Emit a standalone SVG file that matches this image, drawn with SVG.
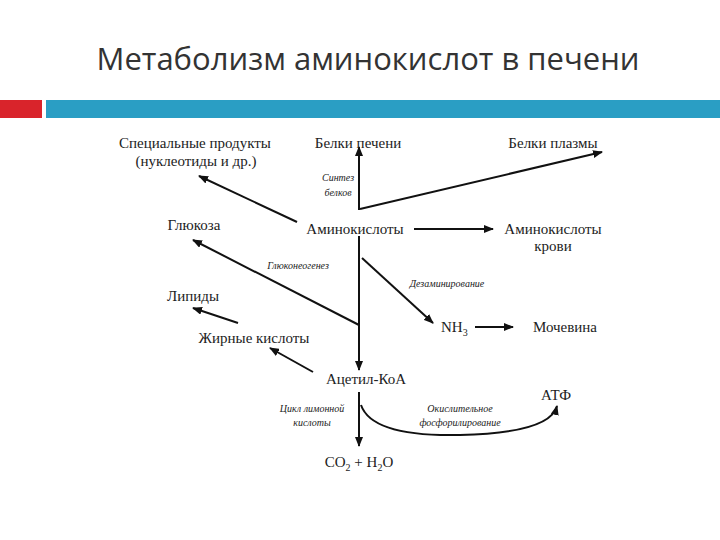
<svg xmlns="http://www.w3.org/2000/svg" width="720" height="540" viewBox="0 0 720 540">
<defs>
<marker id="a" markerWidth="10" markerHeight="8" refX="9" refY="4" orient="auto" markerUnits="userSpaceOnUse"><path d="M0,0 L10,4 L0,8 Z" fill="#111"/></marker>
<style>
.t{font-family:"Liberation Serif",serif;font-size:15px;fill:#222}
.i{font-family:"Liberation Serif",serif;font-size:10px;font-style:italic;fill:#222}
.l{stroke:#111;stroke-width:2;fill:none}
.m{marker-end:url(#a)}
</style>
</defs>
<rect width="720" height="540" fill="#fff"/>
<text x="368" y="70" text-anchor="middle" font-family="Open Sans, sans-serif" font-size="31" fill="#333">Метаболизм аминокислот в печени</text>
<rect x="0" y="100" width="42" height="18" fill="#d9242b"/>
<rect x="46" y="100" width="674" height="18" fill="#2a9ec4"/>
<g id="connectors">
<path class="l m" d="M359,210 V147"/>
<path class="l m" d="M360,209 L602,152"/>
<path class="l m" d="M297,222 L199,176"/>
<path class="l m" d="M414,229 H493"/>
<path class="l m" d="M359,236 V370"/>
<path class="l m" d="M359,325 L193,240"/>
<path class="l m" d="M362,258 L433,323"/>
<path class="l m" d="M475,327 H513"/>
<path class="l m" d="M238,323 L193,308"/>
<path class="l m" d="M313,372 L270,348"/>
<path class="l m" d="M359,392 V446"/>
<path class="l m" d="M361,405 Q372,437 460,435 Q550,433 557,406"/>
</g>
<g id="n1"><text class="t" x="195" y="148" text-anchor="middle">Специальные продукты</text><text class="t" x="196" y="166" text-anchor="middle">(нуклеотиды и др.)</text></g>
<g id="n2"><text class="t" x="358" y="148" text-anchor="middle">Белки печени</text></g>
<g id="n3"><text class="t" x="553" y="148" text-anchor="middle">Белки плазмы</text></g>
<g id="l1"><text class="i" x="338" y="181" text-anchor="middle">Синтез</text><text class="i" x="338" y="196" text-anchor="middle">белков</text></g>
<g id="n4"><text class="t" x="194" y="230" text-anchor="middle">Глюкоза</text></g>
<g id="n5"><text class="t" x="355" y="234" text-anchor="middle">Аминокислоты</text></g>
<g id="n6"><text class="t" x="553" y="234" text-anchor="middle">Аминокислоты</text><text class="t" x="553" y="251" text-anchor="middle">крови</text></g>
<g id="l2"><text class="i" x="298" y="269" text-anchor="middle">Глюконеогенез</text></g>
<g id="l3"><text class="i" x="447" y="287" text-anchor="middle">Дезаминирование</text></g>
<g id="n7"><text class="t" x="193" y="301" text-anchor="middle">Липиды</text></g>
<g id="n8"><text class="t" x="441" y="332">NH<tspan font-size="10" dy="4">3</tspan></text></g>
<g id="n9"><text class="t" x="565" y="332" text-anchor="middle">Мочевина</text></g>
<g id="n10"><text class="t" x="254" y="343" text-anchor="middle">Жирные кислоты</text></g>
<g id="n11"><text class="t" x="366" y="384" text-anchor="middle">Ацетил-КоА</text></g>
<g id="n12"><text class="t" x="556" y="400" text-anchor="middle">АТФ</text></g>
<g id="l4"><text class="i" x="312" y="412" text-anchor="middle">Цикл лимонной</text><text class="i" x="312" y="426" text-anchor="middle">кислоты</text></g>
<g id="l5"><text class="i" x="460" y="412" text-anchor="middle">Окислительное</text><text class="i" x="460" y="426" text-anchor="middle">фосфорилирование</text></g>
<g id="n13"><text class="t" x="359" y="467" text-anchor="middle">CO<tspan font-size="10" dy="4">2</tspan><tspan dy="-4"> + H</tspan><tspan font-size="10" dy="4">2</tspan><tspan dy="-4">O</tspan></text></g>
</svg>
